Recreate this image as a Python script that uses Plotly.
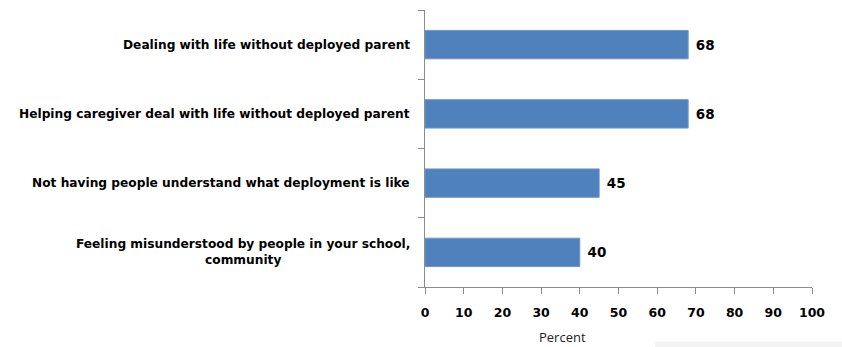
import plotly.graph_objects as go

categories = [
    "Dealing with life without deployed parent",
    "Helping caregiver deal with life without deployed parent",
    "Not having people understand what deployment is like",
    "Feeling misunderstood by people in your school,<br>community",
]
values = [68, 68, 45, 40]
x_ticks = [0, 10, 20, 30, 40, 50, 60, 70, 80, 90, 100]

FONT = "DejaVu Sans"

fig = go.Figure()
fig.add_trace(go.Bar(
    x=values,
    y=categories,
    orientation="h",
    width=0.41,
    marker=dict(color="#4F81BD", line=dict(color="#6F97C9", width=1)),
    text=[f"<b> {v}</b>" for v in values],
    textposition="outside",
    textfont=dict(family=FONT, size=13.5, color="#000000"),
    cliponaxis=False,
    hoverinfo="skip",
))

for c in categories:
    fig.add_annotation(
        x=-0.034, xref="paper", y=c, yref="y",
        text=f"<b>{c}</b>", showarrow=False,
        xanchor="right", yanchor="middle", align="center",
        font=dict(family=FONT, size=12.2, color="#000000"),
    )

fig.add_annotation(
    x=0.356, xref="paper", y=-0.182, yref="paper",
    text="Percent", showarrow=False, xanchor="center", yanchor="middle",
    font=dict(family="Open Sans", size=13, color="#222222"),
)

# faint panel edge visible at the bottom right of the reference
fig.add_shape(type="rect", xref="paper", yref="paper",
              x0=0.595, x1=1.1, y0=-0.198, y1=-0.3,
              fillcolor="#f3f3f3", line=dict(width=0), layer="below")

fig.update_layout(
    width=842, height=347,
    margin=dict(l=425, r=30, t=10, b=60),
    paper_bgcolor="white", plot_bgcolor="white",
    showlegend=False,
    bargap=0.59,
)
fig.update_xaxes(
    range=[0, 100], tickvals=x_ticks,
    ticktext=[f"<b>{t}</b>" for t in x_ticks],
    tickfont=dict(family=FONT, size=12.5, color="#000000"),
    showgrid=False, zeroline=False,
    showline=True, linecolor="#8c8c8c", linewidth=1,
    ticks="outside", ticklen=6, tickcolor="#8c8c8c",
    ticklabelstandoff=8,
)
fig.update_yaxes(
    categoryorder="array", categoryarray=categories[::-1],
    showticklabels=False,
    showgrid=False, zeroline=False,
    showline=True, linecolor="#8c8c8c", linewidth=1,
    ticks="outside", ticklen=6, tickcolor="#8c8c8c",
    tickson="boundaries",
)

fig.write_html("out.html")
